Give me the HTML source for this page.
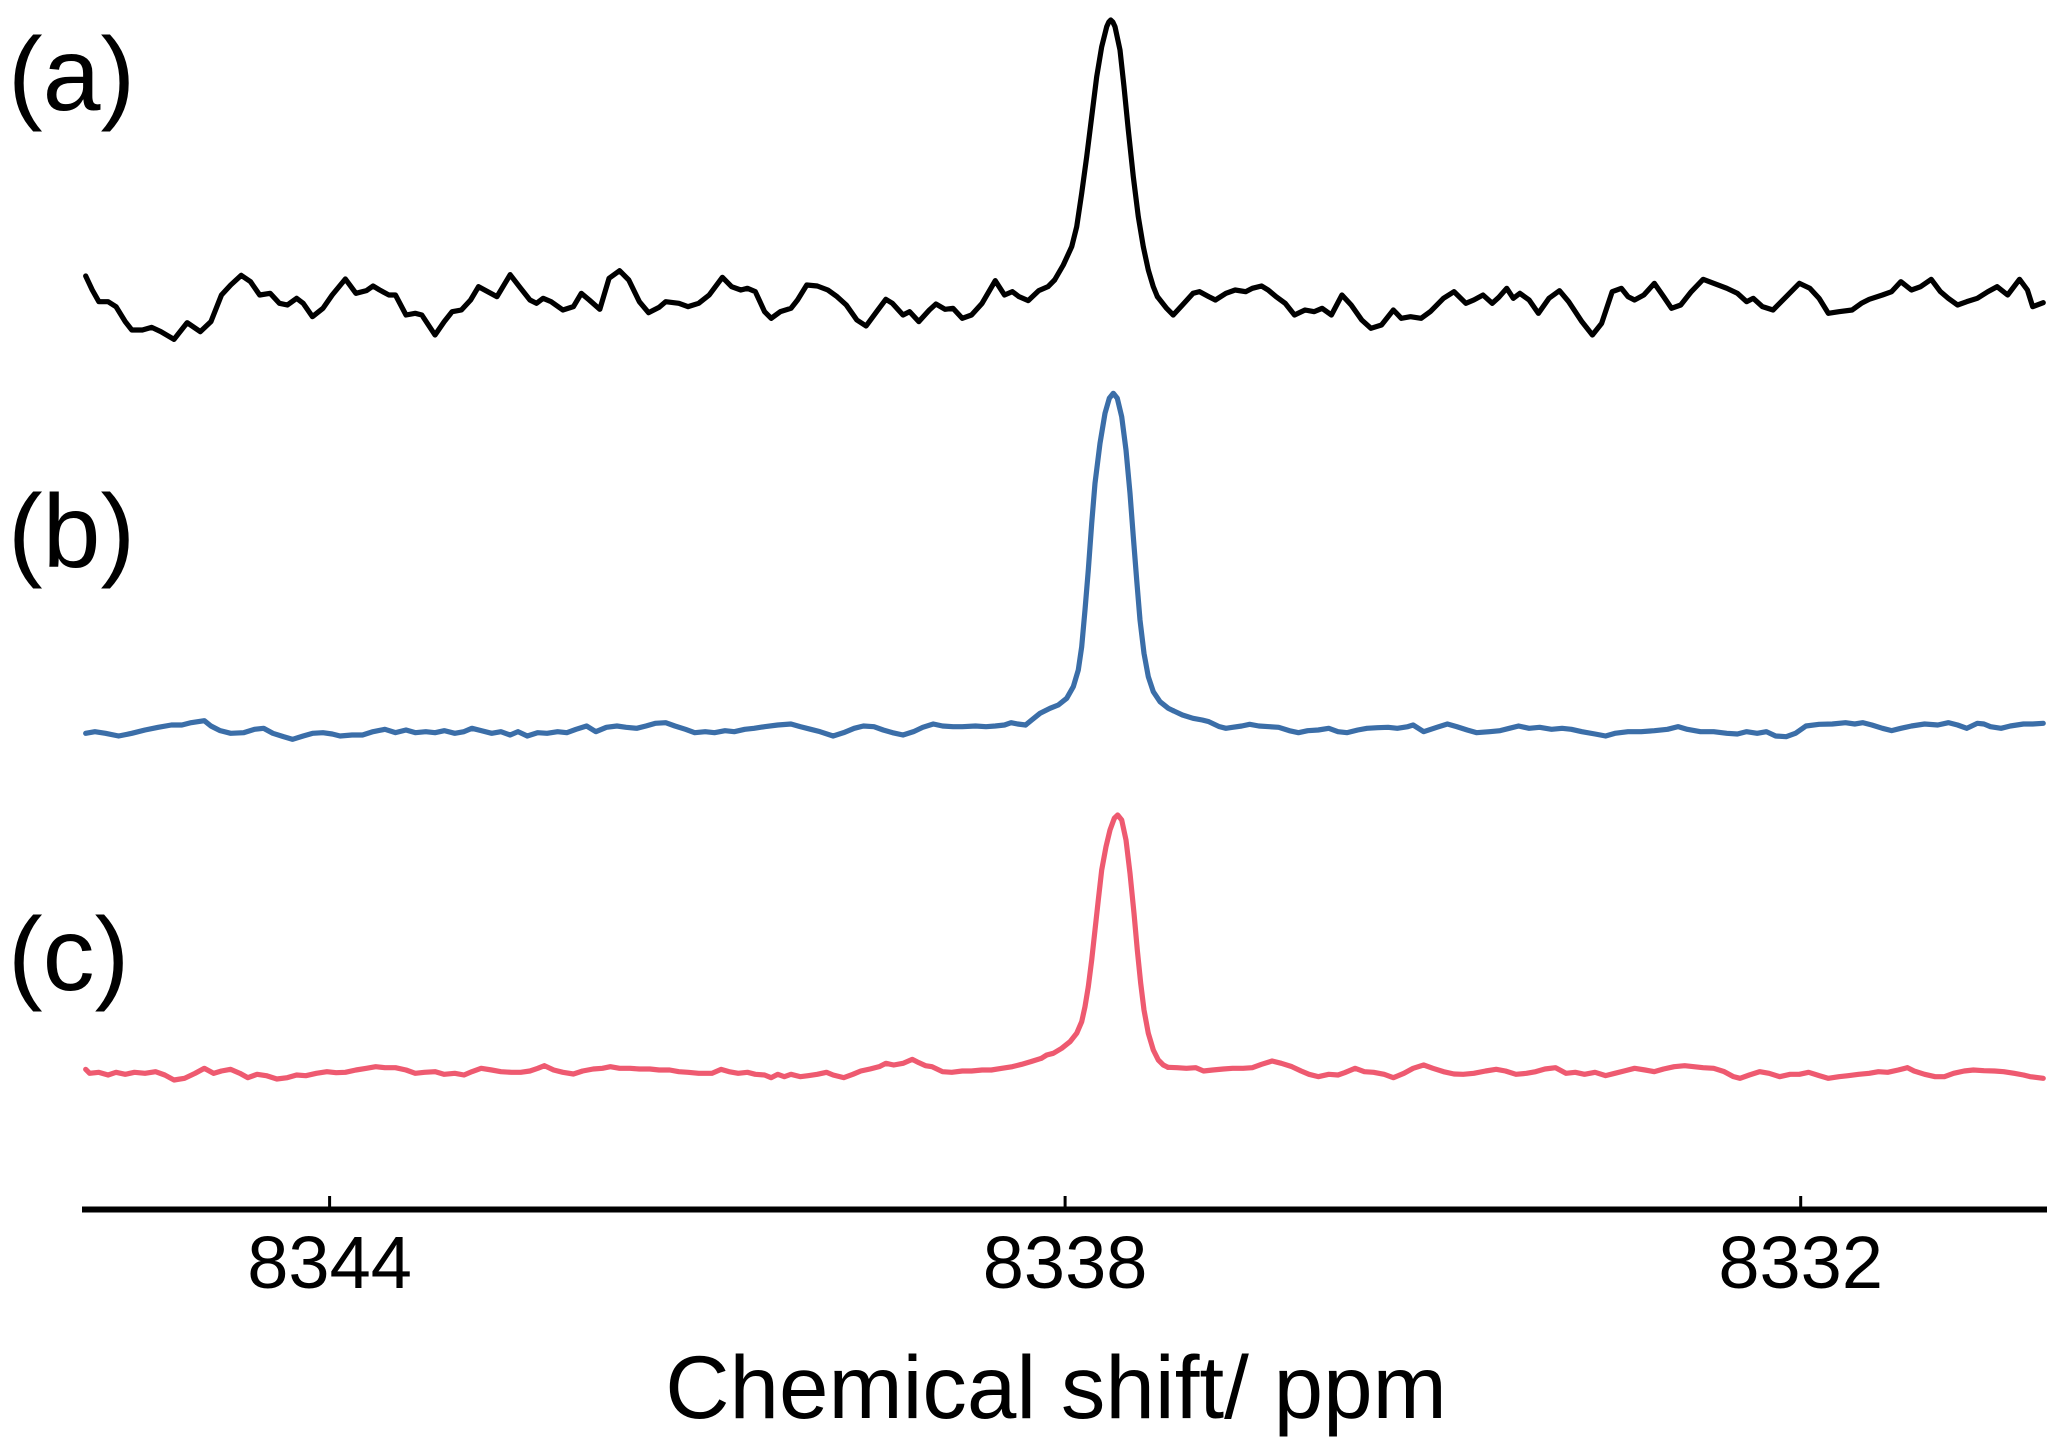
<!DOCTYPE html>
<html>
<head>
<meta charset="utf-8">
<style>
html,body{margin:0;padding:0;background:#fff;}
svg{display:block;}
text{font-family:"Liberation Sans",Arial,sans-serif;fill:#000;}
</style>
</head>
<body>
<svg width="2067" height="1456" viewBox="0 0 2067 1456" xmlns="http://www.w3.org/2000/svg">
<rect x="0" y="0" width="2067" height="1456" fill="#fff"/>

<!-- Panel labels -->
<text x="8" y="110" font-size="104">(a)</text>
<text x="8" y="567" font-size="104">(b)</text>
<text x="8" y="990" font-size="104">(c)</text>

<g fill="none" stroke-linejoin="round" stroke-linecap="round">
<!-- (a) black -->
<g stroke="#000" stroke-width="5.2">
<path vector-effect="non-scaling-stroke" transform="translate(0,250) scale(1.31822,0.33333)" d="M65,78 L70,120 75,155 82,155 88,170 95,215 100,240 108,240 115,232 122,245 132,268 142,218 152,245 160,215 168,135 175,105 183,76 190,95 197,135 205,130 212,160 218,165 225,145 230,160 237,200 245,175 252,135 262,87 270,130 278,122 283,108 288,120 295,135 300,135 308,195 315,190 320,195 330,255 337,215 343,185 350,180 357,150 363,110 370,125 377,140 387,74 395,115 402,150 407,160 412,145 418,155 427,180 435,170 441,130 447,150 455,178 462,85 470,62 477,90 485,155 492,188 500,172 505,155 515,160 522,170 530,160 538,135 548,82 555,110 562,120 567,115 573,125 580,185 585,205 592,185 600,175 605,150 612,105 620,108 628,120 635,140 642,165 650,210 657,228 665,185 672,148 677,160 685,195 690,185 697,215 705,180 710,162 717,178 723,175 730,205 737,195 745,160 755,92 762,135 768,125 773,140 780,152 788,122 795,110 800,90"/>
<path d="M1054.6,280 L1063.3,265 1071.7,246.7 1076.7,226.7 1081.7,193.3 1086.7,156.7 1091.7,116.7 1096.7,76.7 1101.7,46.7 1106.7,26.7 1108.8,22 1110.7,20 1112.8,22 1115,26.7 1120,50 1124,86.7 1128.3,130 1133.3,176.7 1138.3,216.7 1143.3,246.7 1148.3,270 1153.3,286.7 1157.4,296.7"/>
<path vector-effect="non-scaling-stroke" transform="translate(0,250) scale(1.31822,0.33333)" d="M878,140 L885,175 890,195 897,165 905,130 910,125 917,140 922,150 930,130 937,120 945,125 950,115 957,108 962,120 968,140 975,160 982,195 990,180 997,185 1003,175 1010,195 1018,135 1025,165 1033,210 1040,235 1048,225 1057,180 1063,205 1070,200 1078,205 1085,185 1095,145 1103,125 1112,160 1118,150 1125,135 1132,160 1137,142 1143,115 1148,145 1153,130 1160,150 1167,190 1175,145 1183,122 1190,155 1200,215 1208,255 1215,220 1223,125 1230,115 1235,140 1240,150 1247,135 1255,100 1262,140 1268,175 1275,165 1283,125 1292,88 1300,100 1310,115 1318,130 1325,155 1330,145 1337,170 1345,180 1355,140 1365,100 1373,115 1380,145 1387,190 1395,185 1405,180 1412,160 1418,148 1428,135 1435,125 1442,95 1450,120 1457,110 1465,88 1472,125 1478,145 1485,165 1492,155 1500,145 1508,125 1515,110 1523,135 1532,88 1538,120 1542,170 1550,158"/>
</g>

<!-- (b) blue -->
<g stroke="#3b6ea8" stroke-width="5.2">
<path vector-effect="non-scaling-stroke" transform="translate(0,690) scale(1.31822,0.33333)" d="M65,130 L72,125 80,130 90,138 100,130 110,120 120,112 130,105 138,105 145,98 155,92 160,108 167,122 175,130 185,128 193,118 200,115 207,130 215,140 222,148 230,138 237,130 245,128 252,132 258,138 267,135 275,135 283,125 292,118 300,128 308,120 315,128 323,125 330,128 337,122 345,130 352,125 358,115 365,122 373,130 380,125 387,135 393,125 400,138 408,128 415,130 423,125 430,128 437,118 445,108 452,125 460,112 468,108 475,112 483,115 490,108 497,100 505,98 512,108 520,118 527,128 535,125 542,128 550,122 557,125 565,118 572,115 580,110 590,105 600,102 607,110 615,118 622,125 632,138 640,128 648,115 655,108 663,110 670,120 677,128 685,135 693,125 700,112 708,102 715,108 723,110 730,110 740,108 748,110 755,108 762,105 767,98 772,102 778,105"/>
<path d="M1025.6,725 L1031.7,720 1040,713.3 1050,708.3 1058.3,705 1066.7,698.3 1073.3,686.7 1078.3,670 1081.7,646.7 1085,610 1088.3,570 1091.7,523.3 1095,483.3 1100,443.3 1105,413.3 1109.3,398.3 1113.3,393.3 1117.3,398.3 1121.7,416.7 1126,450 1130,493.3 1133.3,536.7 1136.7,580 1140,620 1144,653.3 1148.3,676.7 1153.3,691.7 1160,701.7 1168.3,708.3 1173.2,710.7"/>
<path vector-effect="non-scaling-stroke" transform="translate(0,690) scale(1.31822,0.33333)" d="M890,62 L897,75 905,85 912,90 917,95 925,110 930,115 935,112 942,108 948,103 955,108 963,110 970,112 978,122 985,128 992,122 1000,120 1008,115 1015,125 1022,128 1030,120 1037,115 1045,113 1053,112 1060,115 1068,110 1072,105 1080,125 1090,112 1098,102 1105,110 1113,120 1120,128 1130,125 1138,122 1145,115 1152,108 1160,115 1168,112 1177,118 1185,115 1192,118 1200,125 1210,132 1218,138 1225,130 1235,125 1245,125 1255,122 1265,118 1273,110 1280,118 1290,125 1300,125 1310,130 1318,132 1325,125 1333,130 1340,125 1347,138 1355,140 1362,130 1370,108 1380,103 1390,102 1400,98 1407,102 1413,98 1420,105 1428,115 1435,122 1442,115 1450,108 1460,102 1470,105 1478,98 1485,105 1492,115 1500,100 1505,102 1510,110 1518,115 1525,108 1535,102 1542,102 1550,100"/>
</g>

<!-- (c) red -->
<g stroke="#ee5a70" stroke-width="5.2">
<path vector-effect="non-scaling-stroke" transform="translate(0,1035) scale(1.31822,0.33333)" d="M65,103 L68,115 75,112 82,120 88,112 95,118 102,112 110,115 118,110 125,120 132,135 140,130 148,115 155,100 162,115 168,108 175,103 182,115 188,128 195,118 202,122 210,132 218,128 225,120 232,122 240,115 248,110 255,113 262,112 270,105 278,100 285,95 292,98 300,98 308,105 315,115 322,112 330,110 337,118 345,115 352,120 358,110 365,100 373,105 380,110 388,112 395,112 402,108 408,100 413,92 420,105 427,112 435,117 442,108 450,102 457,100 463,95 470,100 478,100 485,102 493,102 500,105 508,105 515,110 522,112 530,115 540,115 547,103 553,110 560,115 567,112 573,118 580,120 585,128 590,118 595,125 600,118 607,125 613,122 620,118 627,112 632,120 640,128 647,118 653,108 660,102 667,95 672,85 678,90 685,85 692,73 697,83 702,92 707,95 715,110 722,112 730,108 737,108 745,105 752,105 760,100 768,95 775,88 782,80 790,70"/>
<path d="M1041.4,1058.3 L1046.7,1055 1053.3,1053.3 1061.7,1048.3 1070,1041.7 1076.7,1033.3 1081.7,1021.7 1085,1006.7 1088.3,986.7 1091.7,960 1095,930 1098.3,900 1101.7,870 1106,846.7 1110,830 1114.3,818.3 1117.7,815 1121.7,820 1126,840 1130,873.3 1134,913.3 1137.3,950 1140.7,983.3 1144,1010 1148.3,1033.3 1153.3,1050 1158.3,1060 1163.3,1065 1168,1067.3"/>
<path vector-effect="non-scaling-stroke" transform="translate(0,1035) scale(1.31822,0.33333)" d="M886,97 L893,98 900,100 907,98 913,108 920,105 928,102 935,100 943,100 950,98 957,88 965,78 972,85 980,95 987,108 993,118 1000,125 1008,118 1015,120 1020,113 1028,100 1035,110 1042,112 1050,118 1057,128 1065,115 1072,100 1080,90 1087,100 1095,110 1103,117 1110,118 1118,115 1127,108 1135,103 1142,108 1150,118 1158,115 1165,110 1172,102 1180,98 1188,115 1195,112 1202,118 1210,112 1218,122 1225,115 1232,108 1240,100 1248,105 1255,110 1262,102 1270,95 1278,92 1285,95 1292,98 1300,100 1308,110 1315,125 1320,130 1327,120 1335,110 1342,115 1350,125 1358,118 1365,118 1372,112 1380,122 1387,130 1395,125 1402,122 1410,118 1418,115 1425,110 1432,112 1440,105 1447,98 1452,108 1460,118 1468,125 1475,125 1482,115 1490,108 1497,105 1505,107 1513,108 1520,110 1528,115 1535,120 1540,125 1550,130"/>
</g>
</g>

<!-- x axis -->
<line x1="82" y1="1209.5" x2="2047" y2="1209.5" stroke="#000" stroke-width="6"/>
<line x1="329.6" y1="1196" x2="329.6" y2="1208" stroke="#000" stroke-width="3"/>
<line x1="1065.1" y1="1196" x2="1065.1" y2="1208" stroke="#000" stroke-width="3"/>
<line x1="1800.7" y1="1196" x2="1800.7" y2="1208" stroke="#000" stroke-width="3"/>

<text x="329.6" y="1288" font-size="74" text-anchor="middle">8344</text>
<text x="1065.1" y="1288" font-size="74" text-anchor="middle">8338</text>
<text x="1800.7" y="1288" font-size="74" text-anchor="middle">8332</text>

<text x="1056" y="1418" font-size="89" text-anchor="middle">Chemical shift/ ppm</text>
</svg>
</body>
</html>
